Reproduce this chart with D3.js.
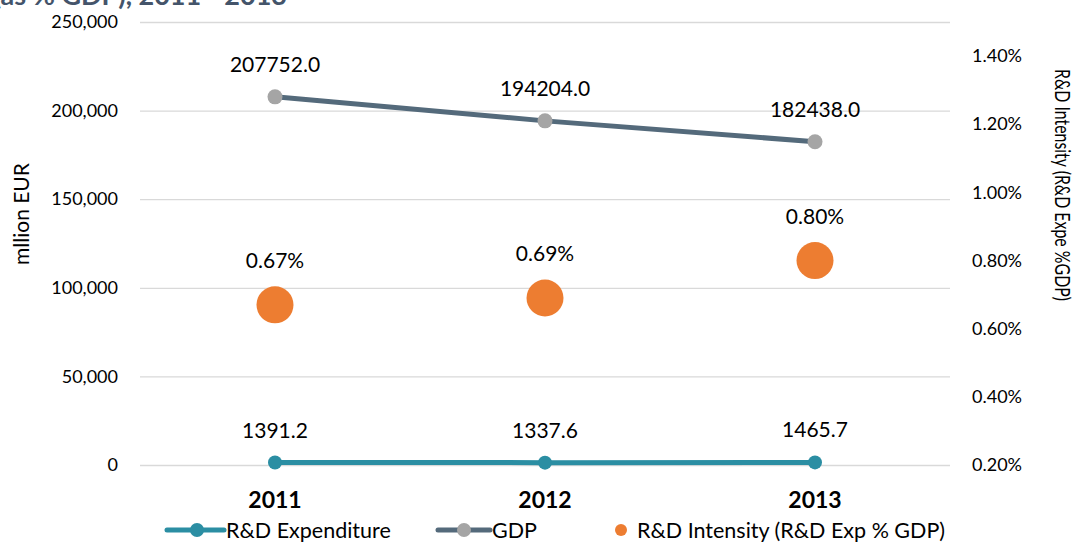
<!DOCTYPE html>
<html>
<head>
<meta charset="utf-8">
<script src="https://cdn.jsdelivr.net/npm/d3@7"></script>
<style>
  body { margin: 0; background: #fff; }
  svg text { font-family: Lato, "Open Sans", sans-serif; fill: #000; }
</style>
</head>
<body>
<svg id="chart" width="1078" height="542"></svg>
<script>
// data
var years = ["2011", "2012", "2013"];
var rdExpenditure = [1391.2, 1337.6, 1465.7];
var gdp = [207752.0, 194204.0, 182438.0];
var rdIntensity = [0.0067, 0.0069, 0.0080];
var leftTicks = [0, 50000, 100000, 150000, 200000, 250000];
var rightTicks = [0.002, 0.004, 0.006, 0.008, 0.010, 0.012, 0.014];

var svg = d3.select("#chart"),
    cs = {
        plot: { left: 140, right: 950, top: 22, bottom: 465 },
        colors: { exp: "#2b8ea3", gdpLine: "#546a7b", gdpMark: "#a5a5a5", dot: "#ed7d31", grid: "#d9d9d9" }
    };

cs.x = d3.scalePoint().domain(years).range([cs.plot.left, cs.plot.right]).padding(0.5);
cs.yL = d3.scaleLinear().domain([0, 250000]).range([cs.plot.bottom, cs.plot.top]);
cs.yR = d3.scaleLinear().domain([0.002, 0.015]).range([cs.plot.bottom, cs.plot.top]);

// title (cut off at top, as in the source)
svg.append("text")
    .attr("x", 287).attr("y", 5)
    .attr("text-anchor", "end")
    .style("font-size", "27px").style("font-weight", "bold").style("fill", "#44546a")
    .text("R&D Expenditure (as % GDP), 2011 - 2013");

// gridlines + left axis
var gridAxis = d3.axisLeft(cs.yL).tickValues(leftTicks)
    .tickSize(-(cs.plot.right - cs.plot.left))
    .tickFormat(d3.format(",")).tickPadding(22);
var gl = svg.append("g").attr("transform", "translate(" + cs.plot.left + ",0)").call(gridAxis);
gl.select(".domain").remove();
gl.selectAll("line").attr("stroke", cs.colors.grid).attr("stroke-width", 1.3);
gl.selectAll("text").style("font-size", "18px").attr("fill", "#000");

// right axis
var ar = svg.append("g").attr("transform", "translate(" + cs.plot.right + ",0)")
    .call(d3.axisRight(cs.yR).tickValues(rightTicks).tickSize(0).tickPadding(22).tickFormat(d3.format(".2%")));
ar.select(".domain").remove();
ar.selectAll("text").style("font-size", "18px").attr("fill", "#000");

// axis titles
svg.append("text").attr("transform", "translate(29,214) rotate(-90)")
    .attr("text-anchor", "middle").style("font-size", "21px").text("mllion EUR");
svg.append("text").attr("transform", "translate(1055,185) rotate(90)")
    .attr("text-anchor", "middle").style("font-size", "21px")
    .attr("textLength", 232).attr("lengthAdjust", "spacingAndGlyphs")
    .text("R&D Intensity (R&D Expe %GDP)");

// category labels
svg.append("g").selectAll("text").data(years).enter().append("text")
    .attr("x", d => cs.x(d)).attr("y", 508)
    .attr("text-anchor", "middle").style("font-size", "23px").style("font-weight", "bold")
    .text(d => d);

// lines
var line = d3.line().x((d, i) => cs.x(years[i])).y(d => cs.yL(d));
svg.append("path").datum(gdp).attr("d", line)
    .attr("fill", "none").attr("stroke", cs.colors.gdpLine).attr("stroke-width", 5).attr("stroke-linecap", "round");
svg.append("path").datum(rdExpenditure).attr("d", line)
    .attr("fill", "none").attr("stroke", cs.colors.exp).attr("stroke-width", 5).attr("stroke-linecap", "round");

svg.append("g").selectAll("circle").data(gdp).enter().append("circle")
    .attr("cx", (d, i) => cs.x(years[i])).attr("cy", d => cs.yL(d)).attr("r", 7.5)
    .attr("fill", cs.colors.gdpMark);
svg.append("g").selectAll("circle").data(rdExpenditure).enter().append("circle")
    .attr("cx", (d, i) => cs.x(years[i])).attr("cy", d => cs.yL(d)).attr("r", 7)
    .attr("fill", cs.colors.exp);

// intensity dots
svg.append("g").selectAll("circle").data(rdIntensity).enter().append("circle")
    .attr("cx", (d, i) => cs.x(years[i])).attr("cy", d => cs.yR(d)).attr("r", 18.5)
    .attr("fill", cs.colors.dot);

// data labels
var labelSize = "21px";
svg.append("g").selectAll("text").data(gdp).enter().append("text")
    .attr("x", (d, i) => cs.x(years[i])).attr("y", d => cs.yL(d) - 25)
    .attr("text-anchor", "middle").style("font-size", labelSize)
    .text(d => d3.format(".1f")(d));
svg.append("g").selectAll("text").data(rdExpenditure).enter().append("text")
    .attr("x", (d, i) => cs.x(years[i])).attr("y", d => cs.yL(d) - 25)
    .attr("text-anchor", "middle").style("font-size", labelSize)
    .text(d => d3.format(".1f")(d));
svg.append("g").selectAll("text").data(rdIntensity).enter().append("text")
    .attr("x", (d, i) => cs.x(years[i])).attr("y", d => cs.yR(d) - 37)
    .attr("text-anchor", "middle").style("font-size", labelSize)
    .text(d => d3.format(".2%")(d));

// legend
var lg = svg.append("g").attr("transform", "translate(0,530)");
lg.append("line").attr("x1", 167).attr("x2", 224).attr("stroke", cs.colors.exp).attr("stroke-width", 5).attr("stroke-linecap", "round");
lg.append("circle").attr("cx", 197).attr("r", 7).attr("fill", cs.colors.exp);
lg.append("text").attr("x", 226).attr("y", 8).style("font-size", "21.5px").text("R&D Expenditure");
lg.append("line").attr("x1", 438).attr("x2", 490).attr("stroke", cs.colors.gdpLine).attr("stroke-width", 5).attr("stroke-linecap", "round");
lg.append("circle").attr("cx", 464).attr("r", 7).attr("fill", cs.colors.gdpMark);
lg.append("text").attr("x", 492).attr("y", 8).style("font-size", "21.5px").text("GDP");
lg.append("circle").attr("cx", 621).attr("r", 6).attr("fill", cs.colors.dot);
lg.append("text").attr("x", 637).attr("y", 8).style("font-size", "21.5px").text("R&D Intensity (R&D Exp % GDP)");
</script>
</body>
</html>
